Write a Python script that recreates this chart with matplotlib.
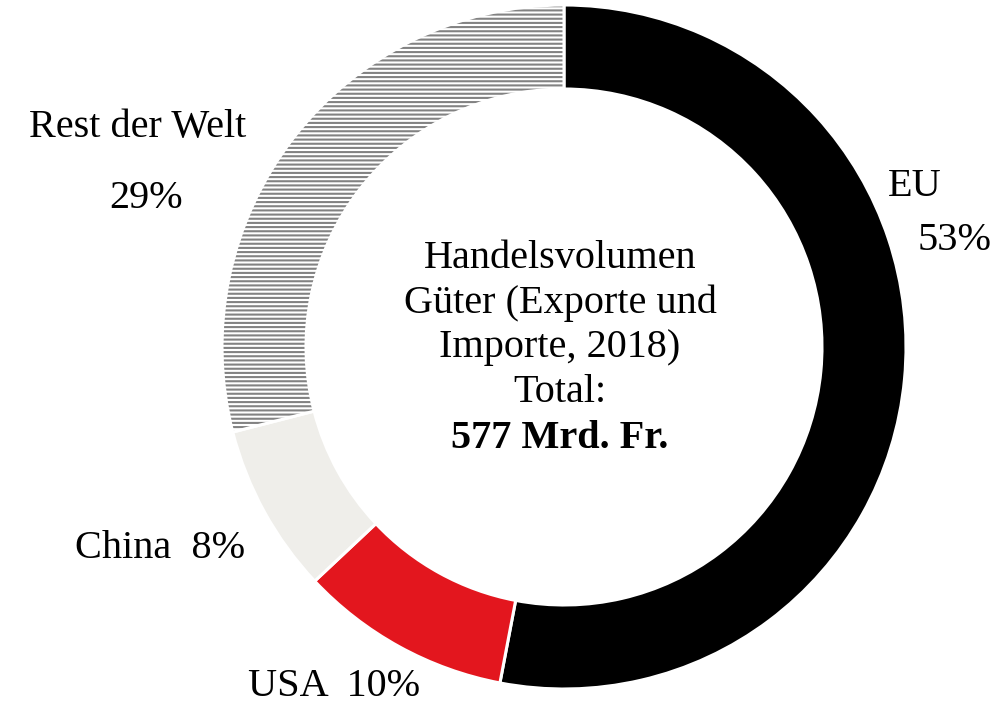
import matplotlib.pyplot as plt
from matplotlib.patches import Wedge

plt.rcParams['font.family'] = ['Liberation Serif', 'DejaVu Serif']
plt.rcParams['hatch.linewidth'] = 1.5

# data
regions = ["EU", "USA", "China", "Rest der Welt"]
shares = [53, 10, 8, 29]
colors = ["#000000", "#e3161e", "#efeeea", "#ffffff"]
center_lines = ["Handelsvolumen", "Güter (Exporte und", "Importe, 2018)", "Total:"]
total_line = "577 Mrd. Fr."

W, H = 1004, 703
fig = plt.figure(figsize=(W / 100, H / 100), dpi=100)
ax = fig.add_axes([0, 0, 1, 1])

cx, cy, r = 564, H - 347, 342
wedges, _ = ax.pie(shares, colors=colors, startangle=90, counterclock=False,
                   center=(cx, cy), radius=r,
                   wedgeprops=dict(width=84, edgecolor="white", linewidth=2.2))

# hatched slice: grey horizontal lines, white outline drawn on top
rest = wedges[3]
rest.set_hatch("-" * 4)
rest.set_edgecolor("#828282")
rest.set_linewidth(0)
ax.add_patch(Wedge(rest.center, rest.r, rest.theta1, rest.theta2, width=rest.width,
                   fill=False, edgecolor="white", linewidth=2.2))

ax.set_xlim(0, W)
ax.set_ylim(0, H)
ax.set_aspect("equal")
ax.axis("off")

fs = 29
ax.text(138, H - 128, "Rest der Welt", fontsize=fs, ha="center", va="center")
ax.text(146, H - 198, "29%", fontsize=fs, ha="center", va="center")
ax.text(915, H - 186, "EU", fontsize=fs, ha="center", va="center")
ax.text(955, H - 240, "53%", fontsize=fs, ha="center", va="center")
ax.text(160, H - 549, "China  8%", fontsize=fs, ha="center", va="center")
ax.text(334, H - 686, "USA  10%", fontsize=fs, ha="center", va="center")

ys = [258, 303, 348, 392]
for y, line in zip(ys, center_lines):
    ax.text(560, H - y, line, fontsize=fs, ha="center", va="center")
ax.text(560, H - 438, total_line, fontsize=fs, fontweight="bold", ha="center", va="center")

fig.savefig("out.png", dpi=100)
